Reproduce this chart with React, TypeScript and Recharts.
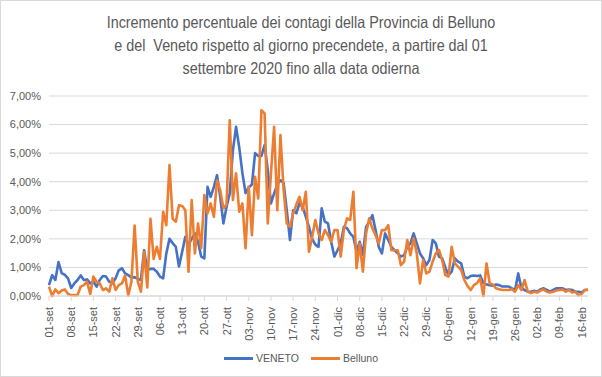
import { LineChart, Line, XAxis, YAxis, CartesianGrid, Legend } from 'recharts';

// mesi coperti dal grafico: 01-set 2020 → 18-feb 2021
const MONTHS: Array<[string, number]> = [
  ['set', 30],
  ['ott', 31],
  ['nov', 30],
  ['dic', 31],
  ['gen', 31],
  ['feb', 18],
];

const Y_TICKS = [0, 1, 2, 3, 4, 5, 6, 7];

const TITLE = [
  'Incremento percentuale dei contagi della Provincia di Belluno',
  'e del  Veneto rispetto al giorno precendete, a partire dal 01',
  'settembre 2020 fino alla data odierna',
];

// incremento % giornaliero (una riga = una settimana)
const VENETO = [
  0.38, 0.73, 0.56, 1.19, 0.80, 0.74, 0.62,
  0.28, 0.44, 0.56, 0.72, 0.56, 0.58, 0.44,
  0.50, 0.33, 0.56, 0.70, 0.68, 0.50, 0.44,
  0.62, 0.90, 0.97, 0.79, 0.73, 0.65, 0.66,
  0.60, 0.56, 1.60, 0.90, 0.95, 0.95, 0.85,
  0.68, 0.62, 1.49, 2.00, 1.85, 1.72, 1.03,
  1.55, 2.07, 1.80, 2.00, 2.19, 1.90, 1.38,
  1.32, 3.82, 3.47, 3.82, 4.23, 3.47, 2.54,
  3.12, 3.59, 5.10, 5.92, 5.20, 4.30, 3.60,
  3.80, 3.90, 5.00, 4.90, 4.90, 5.28, 4.40,
  3.24, 3.59, 3.90, 4.05, 3.95, 3.00, 1.96,
  3.00, 2.89, 3.24, 3.12, 2.77, 2.42, 2.00,
  1.80, 1.72, 3.07, 2.60, 2.54, 1.90, 1.38,
  1.60, 1.84, 2.42, 2.37, 2.19, 2.07, 1.55,
  1.90, 1.45, 2.42, 2.60, 2.83, 2.31, 1.72,
  1.49, 2.19, 1.96, 1.72, 1.60, 1.49, 1.38,
  1.43, 1.72, 1.84, 2.19, 1.84, 1.49, 1.32,
  1.08, 1.26, 1.96, 1.84, 1.38, 1.32, 1.00,
  0.73, 0.85, 1.32, 1.20, 1.14, 0.68, 0.62,
  0.70, 0.72, 0.70, 0.72, 0.45, 0.40, 0.38,
  0.36, 0.40, 0.38, 0.33, 0.33, 0.33, 0.27,
  0.21, 0.79, 0.27, 0.21, 0.15, 0.15, 0.18,
  0.15, 0.23, 0.27, 0.21, 0.15, 0.21, 0.27,
  0.27, 0.27, 0.21, 0.23, 0.21, 0.15, 0.15,
  0.12, 0.21, 0.21,
];

const BELLUNO = [
  0.33, 0.00, 0.23, 0.10, 0.19, 0.23, 0.07,
  0.03, 0.03, 0.03, 0.33, 0.38, 0.50, 0.07,
  0.68, 0.50, 0.44, 0.21, 0.27, 0.15, 0.62,
  0.21, 0.38, 0.44, 0.72, 0.02, 0.50, 2.47,
  0.50, 0.15, 1.54, 0.30, 2.70, 1.30, 1.72,
  1.30, 2.95, 2.48, 4.58, 2.70, 2.60, 3.18,
  3.15, 3.00, 0.85, 3.36, 1.49, 2.54, 1.67,
  3.53, 2.89, 3.24, 2.77, 4.05, 3.70, 3.07,
  3.20, 6.15, 3.36, 4.29, 2.95, 3.24, 1.67,
  3.82, 2.13, 4.17, 3.41, 6.50, 6.39, 2.54,
  4.29, 5.92, 3.00, 5.63, 3.71, 2.54, 2.42,
  2.89, 3.20, 3.47, 3.00, 3.65, 1.55, 2.07,
  2.66, 2.19, 1.96, 2.31, 2.13, 1.90, 2.31,
  2.31, 1.38, 2.31, 2.72, 2.66, 3.65, 0.97,
  1.84, 0.85, 2.19, 2.72, 2.37, 2.13, 1.84,
  2.31, 2.30, 2.48, 1.60, 1.60, 1.60, 1.08,
  1.20, 1.96, 1.43, 2.02, 1.49, 0.44, 1.26,
  0.79, 0.85, 1.20, 1.49, 1.61, 1.26, 0.73,
  0.68, 1.72, 1.14, 1.03, 0.91, 0.56, 0.35,
  0.21, 0.38, 0.45, 0.62, 0.00, 1.14, 0.44,
  0.40, 0.27, 0.24, 0.21, 0.21, 0.21, 0.24,
  0.15, 0.38, 0.21, 0.56, 0.15, 0.10, 0.15,
  0.12, 0.19, 0.23, 0.15, 0.12, 0.15, 0.19,
  0.21, 0.23, 0.15, 0.21, 0.12, 0.15, 0.02,
  0.07, 0.21, 0.23,
];

const DATES: string[] = [];
MONTHS.forEach(([m, n]) => {
  for (let d = 1; d <= n; d++) DATES.push(`${String(d).padStart(2, '0')}-${m}`);
});

const data = DATES.map((date, i) => ({ date, veneto: VENETO[i], belluno: BELLUNO[i] }));

const GREY = '#595959';
const FONT = '"Liberation Sans", Arial, sans-serif';

const pct = (v: number) => `${v.toFixed(2).replace('.', ',')}%`;

function DateTick({ x, y, payload }: any) {
  return (
    <text
      x={x}
      y={y}
      transform={`rotate(-90, ${x}, ${y})`}
      dx={-4}
      dy={4}
      textAnchor="end"
      fill={GREY}
      fontSize={11}
      fontFamily={FONT}
    >
      {payload.value}
    </text>
  );
}

function LegendBox() {
  const items = [
    { label: 'VENETO', color: '#4472C4' },
    { label: 'Belluno', color: '#ED7D31' },
  ];
  return (
    <div
      style={{
        display: 'flex',
        justifyContent: 'center',
        gap: 12,
        paddingTop: 8,
        paddingLeft: 14,
        fontFamily: FONT,
        fontSize: 10.5,
        color: GREY,
      }}
    >
      {items.map((it) => (
        <div key={it.label} style={{ display: 'flex', alignItems: 'center', gap: 3 }}>
          <span style={{ display: 'inline-block', width: 29, height: 3, background: it.color }} />
          <span>{it.label}</span>
        </div>
      ))}
    </div>
  );
}

export default function App() {
  return (
    <div style={{ position: 'absolute', left: 0, top: 0, width: 602, height: 377, background: '#fff' }}>
      {/* titolo: font Calibri non disponibile, compresso in orizzontale per avere la stessa larghezza */}
      <div
        style={{
          position: 'absolute',
          top: 11,
          left: 0,
          width: 602,
          textAlign: 'center',
          whiteSpace: 'pre',
          fontFamily: FONT,
          fontSize: 16.5,
          lineHeight: '23px',
          color: GREY,
          transform: 'scaleX(0.87)',
          transformOrigin: '301px 0',
        }}
      >
        {TITLE.map((t) => (
          <div key={t}>{t}</div>
        ))}
      </div>
      <LineChart width={602} height={377} data={data} margin={{ top: 96, right: 14, bottom: 4, left: 0 }}>
        <CartesianGrid vertical={false} stroke="#D9D9D9" />
        <XAxis
          dataKey="date"
          interval={6}
          height={48}
          tick={<DateTick />}
          tickSize={5}
          axisLine={{ stroke: '#D9D9D9' }}
          tickLine={{ stroke: '#D9D9D9' }}
        />
        <YAxis
          domain={[0, 7]}
          ticks={Y_TICKS}
          width={49}
          tickFormatter={pct}
          axisLine={false}
          tickLine={false}
          tick={{ fill: GREY, fontSize: 11, fontFamily: FONT }}
        />
        <Legend verticalAlign="bottom" height={29} content={() => <LegendBox />} />
        <Line
          dataKey="veneto"
          name="VENETO"
          stroke="#4472C4"
          strokeWidth={2.6}
          dot={false}
          isAnimationActive={false}
          strokeLinejoin="round"
        />
        <Line
          dataKey="belluno"
          name="Belluno"
          stroke="#ED7D31"
          strokeWidth={2.6}
          dot={false}
          isAnimationActive={false}
          strokeLinejoin="round"
        />
      </LineChart>
      <div
        style={{
          position: 'absolute',
          inset: 0,
          border: '1px solid #D9D9D9',
          pointerEvents: 'none',
        }}
      />
    </div>
  );
}
